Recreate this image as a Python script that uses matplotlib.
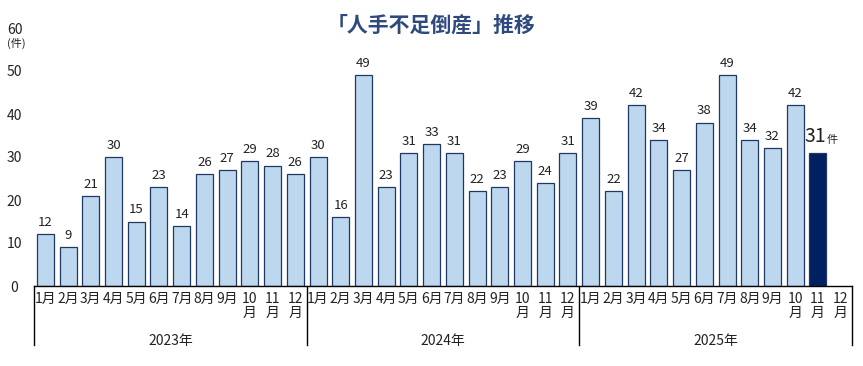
import matplotlib
matplotlib.use("Agg")
import matplotlib.pyplot as plt
from matplotlib.transforms import blended_transform_factory
from matplotlib.lines import Line2D

plt.rcParams['font.family'] = ['Noto Sans CJK JP', 'DejaVu Sans']

years = ["2023年", "2024年", "2025年"]
months = ["1月", "2月", "3月", "4月", "5月", "6月", "7月", "8月", "9月", "10\n月", "11\n月", "12\n月"]
v2023 = [12, 9, 21, 30, 15, 23, 14, 26, 27, 29, 28, 26]
v2024 = [30, 16, 49, 23, 31, 33, 31, 22, 23, 29, 24, 31]
v2025 = [39, 22, 42, 34, 27, 38, 49, 34, 32, 42, 31]
title = "「人手不足倒産」推移"
yticks = [0, 10, 20, 30, 40, 50, 60]

values = v2023 + v2024 + v2025
n_slots = 36

W, H = 863, 366
fig = plt.figure(figsize=(W / 100, H / 100), dpi=100)
x0, x1 = 34, 852
y0, y1 = 286, 28
ax = fig.add_axes([x0 / W, (H - y0) / H, (x1 - x0) / W, (y0 - y1) / H])

light = "#bdd7ee"
edge = "#1f3864"
dark = "#002060"
txt = "#222222"

xs = list(range(len(values)))
colors = [light] * (len(values) - 1) + [dark]
ax.bar(xs, values, width=0.75, color=colors, edgecolor=edge, linewidth=0.9, zorder=2)

for i, v in enumerate(values[:-1]):
    ax.text(i, v + 1.2, str(v), ha="center", va="bottom", fontsize=9.5, color=txt)
last = len(values) - 1
ax.text(last - 0.1, values[-1] + 1.3, str(values[-1]), ha="center", va="bottom", fontsize=14, color=txt)
ax.text(last + 0.62, values[-1] + 1.9, "件", ha="center", va="bottom", fontsize=8, color=txt)

ax.set_xlim(-0.5, n_slots - 0.5)
ax.set_ylim(0, 60)
ax.set_yticks(yticks)
ax.set_yticklabels([str(t) for t in yticks], fontsize=10, color=txt, ha="center")
ax.tick_params(axis="y", length=0, pad=14)
ax.set_xticks([])
for s in ["left", "right", "top"]:
    ax.spines[s].set_visible(False)
ax.spines["bottom"].set_color("#000000")
ax.spines["bottom"].set_linewidth(1.0)

fig.text(16 / W, 1 - 43 / H, "(件)", ha="center", va="center", fontsize=8, color=txt)

tr = blended_transform_factory(ax.transData, ax.transAxes)
for yi in range(3):
    for mi, m in enumerate(months):
        x = yi * 12 + mi
        ax.text(x, -0.022, m, transform=tr, ha="center", va="top", fontsize=10,
                color=txt, linespacing=1.05)
    ax.text(yi * 12 + 5.5, -0.185, years[yi], transform=tr, ha="center", va="top",
            fontsize=10, color=txt)

for b in [-0.5, 11.5, 23.5, 35.5]:
    ax.add_line(Line2D([b, b], [0, -0.23], transform=tr, color="#000000",
                       linewidth=1.0, clip_on=False))

fig.text(431 / W, 1 - 25 / H, title, ha="center", va="center", fontsize=15,
         fontweight="bold", color="#2e4a7d")

fig.savefig("out.png", dpi=100)
